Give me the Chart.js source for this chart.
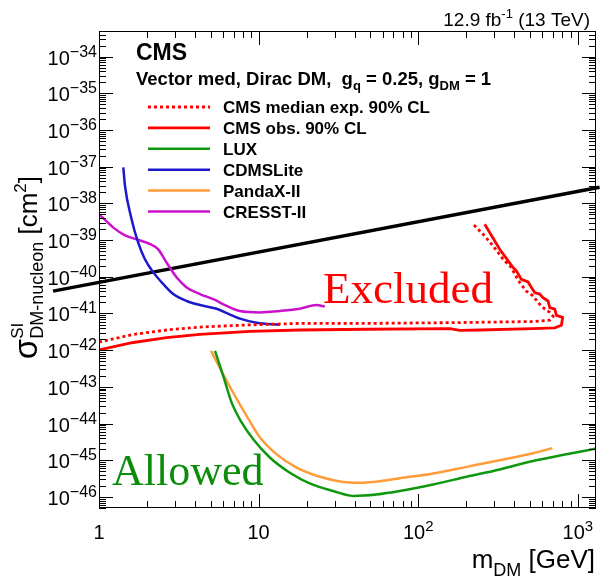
<!DOCTYPE html>
<html lang="en">
<head>
    <meta charset="UTF-8">
    <title>DM-nucleon cross section limits</title>
    <script src="https://cdn.jsdelivr.net/npm/chart.js"></script>
    <style>
        body {
            margin: 0;
            background: #fff;
        }
        .chart-container {
            width: 600px;
            height: 579px;
        }
    </style>
</head>
<body>
    <div class="chart-container">
        <canvas id="myChart"></canvas>
    </div>
    <script>
        // masses in GeV, cross sections in cm^2
        const expMass = [1.0, 1.64, 2.65, 4.29, 8.82, 18.1, 47.5, 158, 522, 667, 700, 667, 621, 577, 524, 476, 433, 403, 384, 340, 295, 255, 221];
        const expXsec = [1.66e-42, 2.69e-42, 3.55e-42, 4.27e-42, 4.90e-42, 5.37e-42, 5.37e-42, 5.62e-42, 6.03e-42, 6.61e-42, 8.32e-42, 1.07e-41, 1.32e-41, 1.78e-41, 3.02e-41, 4.07e-41, 6.92e-41, 1.17e-40, 1.78e-40, 3.02e-40, 6.92e-40, 1.45e-39, 2.69e-39];

        const obsMass = [1.0, 1.64, 2.65, 4.29, 8.82, 18.1, 47.5, 158, 182, 243, 522, 717, 789, 804, 735, 717, 667, 651, 605, 577, 537, 512, 488, 443, 412, 393, 324, 261];
        const obsXsec = [1.02e-42, 1.62e-42, 2.19e-42, 2.69e-42, 3.24e-42, 3.55e-42, 3.72e-42, 3.89e-42, 3.47e-42, 3.55e-42, 3.89e-42, 4.07e-42, 4.79e-42, 7.76e-42, 8.91e-42, 1.32e-41, 1.45e-41, 2.19e-41, 2.69e-41, 3.39e-41, 3.72e-41, 5.13e-41, 7.24e-41, 8.51e-41, 1.45e-40, 1.78e-40, 5.62e-40, 2.69e-39];

        const luxMass = [5.33, 6.0, 6.78, 7.83, 9.25, 11.8, 15.7, 20.9, 29.3, 39.1, 54.8, 76.7, 124, 201, 324, 524, 848, 1308];
        const luxXsec = [9.55e-43, 2.0e-43, 3.72e-44, 1.07e-44, 3.72e-45, 1.17e-45, 4.57e-46, 2.34e-46, 1.45e-46, 1.07e-46, 1.17e-46, 1.45e-46, 2.19e-46, 3.55e-46, 5.62e-46, 9.55e-46, 1.45e-45, 2.09e-45];

        const cdmsMass = [1.42, 1.455, 1.60, 1.76, 1.94, 2.19, 2.53, 2.92, 3.54, 4.50, 5.46, 6.31, 7.64, 9.71, 13.6];
        const cdmsXsec = [9.55e-38, 3.02e-38, 3.72e-39, 8.51e-40, 3.02e-40, 1.32e-40, 6.31e-41, 3.39e-41, 2.19e-41, 1.62e-41, 1.35e-41, 1.02e-41, 7.24e-42, 5.62e-42, 4.90e-42];

        const pandaMass = [5.03, 6.0, 6.93, 8.41, 10.2, 13.0, 17.3, 24.2, 33.9, 43.1, 57.5, 76.7, 124, 201, 324, 524, 693];
        const pandaXsec = [9.55e-43, 2.19e-43, 6.92e-44, 1.62e-44, 4.17e-45, 1.45e-45, 6.31e-46, 3.55e-46, 2.57e-46, 2.45e-46, 2.69e-46, 3.24e-46, 4.37e-46, 6.61e-46, 1.0e-45, 1.55e-45, 2.14e-45];

        const cresstMass = [1.0, 1.23, 1.455, 1.72, 2.09, 2.35, 2.65, 3.07, 3.54, 4.29, 5.20, 6.31, 7.64, 10.2, 13.6, 18.1, 23.1, 26.0];
        const cresstXsec = [5.13e-39, 2.19e-39, 1.35e-39, 1.05e-39, 7.76e-40, 5.62e-40, 2.45e-40, 9.55e-41, 5.13e-41, 3.39e-41, 2.45e-41, 1.62e-41, 1.17e-41, 1.07e-41, 1.17e-41, 1.35e-41, 1.70e-41, 1.55e-41];

        // straight black line, runs past the frame on both sides
        const lineMass = [0.515, 1370];
        const lineXsec = [4.07e-41, 2.75e-38];

        const xMajorExps = [0, 1, 2, 3];
        const yMajorExps = [-46, -45, -44, -43, -42, -41, -40, -39, -38, -37, -36, -35, -34];

        function toPoints(xs, ys) {
            return xs.map((x, i) => ({ x: x, y: ys[i] }));
        }

        // draws a run of text pieces (normal / super / subscript) on one baseline
        function drawRich(ctx, parts, x, y, align) {
            let total = 0;
            parts.forEach(p => {
                ctx.font = p.font;
                p.w = ctx.measureText(p.text).width;
                if (p.advance !== false) total += p.w;
            });
            if (align === 'right') x -= total;
            if (align === 'center') x -= total / 2;
            ctx.textAlign = 'left';
            ctx.textBaseline = 'alphabetic';
            parts.forEach(p => {
                ctx.font = p.font;
                ctx.fillText(p.text, x, y + (p.dy || 0));
                if (p.advance !== false) x += p.w;
            });
            return total;
        }

        const SANS = '"Liberation Sans", Arial, sans-serif';
        const SERIF = '"Liberation Serif", "Times New Roman", serif';

        const decorations = {
            id: 'decorations',
            afterDraw(chart) {
                const ctx = chart.ctx;
                const a = chart.chartArea;
                const xs = chart.scales.x;
                const ys = chart.scales.y;
                ctx.save();
                ctx.fillStyle = '#000';
                ctx.strokeStyle = '#000';
                ctx.lineWidth = 1;

                // frame
                ctx.strokeRect(a.left + 0.5, a.top + 0.5, a.right - a.left - 1, a.bottom - a.top - 1);

                // ticks on all four sides
                ctx.beginPath();
                for (let e = 0; e <= 3; e++) {
                    for (let j = 1; j <= 9; j++) {
                        const v = Number(j + 'e' + e);
                        if (v < xs.min || v > xs.max) continue;
                        const px = Math.round(xs.getPixelForValue(v)) + 0.5;
                        const len = j === 1 ? 14 : 7;
                        ctx.moveTo(px, a.bottom); ctx.lineTo(px, a.bottom - len);
                        ctx.moveTo(px, a.top); ctx.lineTo(px, a.top + len);
                    }
                }
                for (let e = -47; e <= -34; e++) {
                    for (let j = 1; j <= 9; j++) {
                        const v = Number(j + 'e' + e);
                        if (v < ys.min || v > ys.max) continue;
                        const py = Math.round(ys.getPixelForValue(v)) + 0.5;
                        const len = j === 1 ? 14 : 7;
                        ctx.moveTo(a.left, py); ctx.lineTo(a.left + len, py);
                        ctx.moveTo(a.right, py); ctx.lineTo(a.right - len, py);
                    }
                }
                ctx.stroke();

                // tick labels
                xMajorExps.forEach(e => {
                    const px = xs.getPixelForValue(Math.pow(10, e));
                    const parts = e === 0 ? [{ text: '1', font: '20px ' + SANS }]
                        : e === 1 ? [{ text: '10', font: '20px ' + SANS }]
                        : [{ text: '10', font: '20px ' + SANS }, { text: String(e), font: '15px ' + SANS, dy: -8 }];
                    drawRich(ctx, parts, px, 539, 'center');
                });
                yMajorExps.forEach(e => {
                    const py = ys.getPixelForValue(Number('1e' + e));
                    drawRich(ctx, [
                        { text: '10', font: '20px ' + SANS },
                        { text: '\u2212' + Math.abs(e), font: '16px ' + SANS, dy: -8 }
                    ], 97, py + 8, 'right');
                });

                // axis titles
                drawRich(ctx, [
                    { text: 'm', font: '26px ' + SANS },
                    { text: 'DM', font: '18px ' + SANS, dy: 8 },
                    { text: ' [GeV]', font: '26px ' + SANS }
                ], 595, 568, 'right');

                const yTitle = [
                    { text: '\u03c3', font: '33px ' + SANS },
                    { text: 'SI', font: '17px ' + SANS, dy: -14, advance: false },
                    { text: 'DM-nucleon', font: '18px ' + SANS, dy: 6 },
                    { text: ' [cm', font: '26px ' + SANS },
                    { text: '2', font: '17px ' + SANS, dy: -11 },
                    { text: ']', font: '26px ' + SANS }
                ];
                ctx.save();
                let w = 0;
                yTitle.forEach(p => { ctx.font = p.font; if (p.advance !== false) w += ctx.measureText(p.text).width; });
                ctx.translate(37, 176 + w);
                ctx.rotate(-Math.PI / 2);
                drawRich(ctx, yTitle, 0, 0, 'left');
                ctx.restore();

                // luminosity / energy
                drawRich(ctx, [
                    { text: '12.9 fb', font: '19px ' + SANS },
                    { text: '-1', font: '13px ' + SANS, dy: -8 },
                    { text: ' (13 TeV)', font: '19px ' + SANS }
                ], 590, 26, 'right');

                // CMS label and model line
                drawRich(ctx, [{ text: 'CMS', font: 'bold 23px ' + SANS }], 136, 60, 'left');
                drawRich(ctx, [
                    { text: 'Vector med, Dirac DM,  g', font: 'bold 18.5px ' + SANS },
                    { text: 'q', font: 'bold 13px ' + SANS, dy: 5 },
                    { text: ' = 0.25, g', font: 'bold 18.5px ' + SANS },
                    { text: 'DM', font: 'bold 13px ' + SANS, dy: 5 },
                    { text: ' = 1', font: 'bold 18.5px ' + SANS }
                ], 136, 85, 'left');

                // legend
                let row = 0;
                chart.data.datasets.forEach(ds => {
                    if (!ds.label) return;
                    const cy = 107 + row * 20.9;
                    ctx.save();
                    ctx.strokeStyle = ds.borderColor;
                    ctx.lineWidth = ds.borderWidth;
                    ctx.setLineDash(ds.borderDash || []);
                    ctx.beginPath();
                    ctx.moveTo(148, cy);
                    ctx.lineTo(210, cy);
                    ctx.stroke();
                    ctx.restore();
                    drawRich(ctx, [{ text: ds.label, font: 'bold 17px ' + SANS }], 223, cy + 6, 'left');
                    row++;
                });

                // region labels
                ctx.fillStyle = '#ff0000';
                drawRich(ctx, [{ text: 'Excluded', font: '45px ' + SERIF }], 323, 303, 'left');
                ctx.fillStyle = '#0b8c0b';
                drawRich(ctx, [{ text: 'Allowed', font: '44px ' + SERIF }], 112, 485, 'left');

                ctx.restore();
            }
        };

        function makeSet(label, xs, ys, color, width, extra) {
            return Object.assign({
                label: label,
                data: toPoints(xs, ys),
                borderColor: color,
                backgroundColor: color,
                borderWidth: width,
                pointRadius: 0,
                tension: 0,
                fill: false
            }, extra || {});
        }

        // smooth curves for the direct-detection limits (mass always increasing)
        const smooth = { cubicInterpolationMode: 'monotone' };

        const ctx = document.getElementById('myChart').getContext('2d');
        new Chart(ctx, {
            type: 'line',
            data: {
                datasets: [
                    makeSet('CMS median exp. 90% CL', expMass, expXsec, '#ff0000', 2.8, { borderDash: [3, 3] }),
                    makeSet('CMS obs. 90% CL', obsMass, obsXsec, '#ff0000', 2.8),
                    makeSet('LUX', luxMass, luxXsec, '#0f980f', 2.5, smooth),
                    makeSet('CDMSLite', cdmsMass, cdmsXsec, '#1a1acc', 2.5, smooth),
                    makeSet('PandaX-II', pandaMass, pandaXsec, '#ff9c3a', 2.5, smooth),
                    makeSet('CRESST-II', cresstMass, cresstXsec, '#cc11cc', 2.5, smooth),
                    makeSet('', lineMass, lineXsec, '#000000', 3.5, { clip: false })
                ]
            },
            options: {
                responsive: true,
                maintainAspectRatio: false,
                animation: false,
                layout: {
                    padding: { left: 99, top: 31, right: 4, bottom: 71 }
                },
                plugins: {
                    legend: { display: false },
                    tooltip: { enabled: false }
                },
                scales: {
                    x: {
                        type: 'logarithmic',
                        min: 1,
                        max: 1300,
                        display: false
                    },
                    y: {
                        type: 'logarithmic',
                        min: 5e-47,
                        max: 5e-34,
                        display: false
                    }
                }
            },
            plugins: [decorations]
        });
    </script>
</body>
</html>
